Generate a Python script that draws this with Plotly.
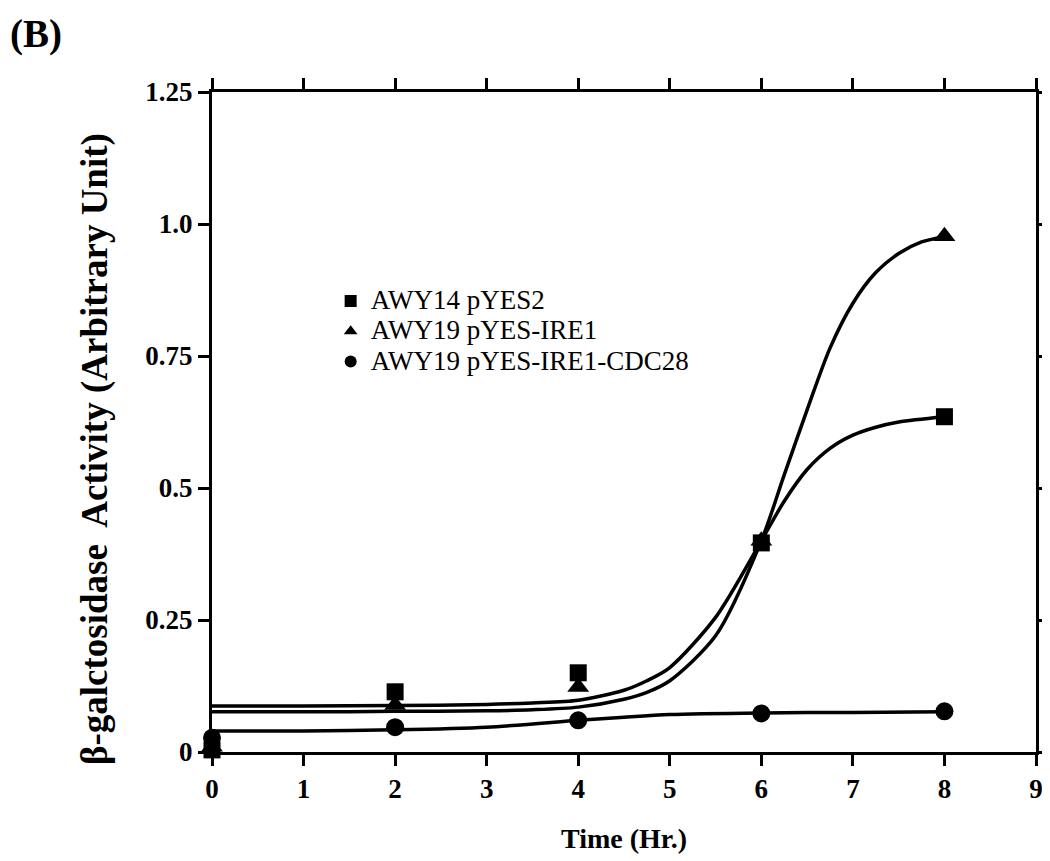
import plotly.graph_objects as go

# measured points (Time in hr, activity)
time_pts = [0, 2, 4, 6, 8]
awy14_pyes2 = [0.004, 0.114, 0.150, 0.396, 0.635]
awy19_ire1 = [0.010, 0.089, 0.123, 0.400, 0.977]
awy19_ire1_cdc28 = [0.027, 0.047, 0.060, 0.073, 0.077]

# fitted curves
fit_x_sq = [0, 1, 2, 3, 3.5, 4, 4.5, 4.75, 5, 5.5, 6, 6.25, 6.5, 6.75, 7, 7.25, 7.5, 8]
fit_sq = [0.087, 0.087, 0.088, 0.090, 0.093, 0.098, 0.117, 0.135, 0.160, 0.255, 0.400, 0.475, 0.535, 0.575, 0.600, 0.615, 0.625, 0.635]
fit_x_tri = [0, 1, 2, 3, 3.5, 4, 4.5, 4.75, 5, 5.5, 6, 6.25, 6.5, 6.75, 7, 7.25, 7.5, 7.75, 8]
fit_tri = [0.076, 0.076, 0.077, 0.078, 0.080, 0.085, 0.100, 0.113, 0.135, 0.220, 0.400, 0.525, 0.648, 0.765, 0.850, 0.908, 0.944, 0.966, 0.976]
fit_x_circ = [0, 1, 2, 3, 4, 4.5, 5, 6, 7, 8]
fit_circ = [0.040, 0.040, 0.042, 0.047, 0.060, 0.066, 0.071, 0.074, 0.075, 0.076]

y_tickvals = [0, 0.25, 0.5, 0.75, 1.0, 1.25]
y_ticktext = ['0', '0.25', '0.5', '0.75', '1.0', '1.25']
x_tickvals = [0, 1, 2, 3, 4, 5, 6, 7, 8, 9]

serif = "Liberation Serif"

fig = go.Figure()

for fx, fy in [(fit_x_sq, fit_sq), (fit_x_tri, fit_tri), (fit_x_circ, fit_circ)]:
    fig.add_trace(go.Scatter(
        x=fx, y=fy, mode='lines', line=dict(color='black', width=3.5, shape='spline', smoothing=0.8),
        showlegend=False, hoverinfo='skip', cliponaxis=False))

series = [
    ('AWY14 pYES2', awy14_pyes2, 'square', 17),
    ('AWY19 pYES-IRE1', awy19_ire1, 'triangle-up', 19),
    ('AWY19 pYES-IRE1-CDC28', awy19_ire1_cdc28, 'circle', 18),
]
for name, vals, sym, sz in series:
    fig.add_trace(go.Scatter(
        x=time_pts, y=vals, mode='markers',
        name='<span style="font-size:27px">' + name + '</span>',
        marker=dict(symbol=sym, size=sz, color='black', line=dict(width=0)),
        cliponaxis=False))

axis_common = dict(
    showgrid=False, zeroline=False, showline=True, linecolor='black', linewidth=3,
    mirror='ticks', ticks='outside', ticklen=11, tickwidth=3, tickcolor='black',
    automargin=False,
    tickfont=dict(family=serif, size=27, color='black', weight='bold'),
)

fig.update_xaxes(range=[0, 9], tickvals=x_tickvals, **axis_common,
                 title=dict(text='<b>Time (Hr.)</b>', font=dict(family=serif, size=28, color='black'), standoff=25))
fig.update_yaxes(range=[0, 1.25], tickvals=y_tickvals, ticktext=y_ticktext, **axis_common)

# y title sits a bit below the middle of the axis in the original
fig.add_annotation(text='<b>β-galctosidase  Activity (Arbitrary Unit)</b>', textangle=-90,
                   xref='paper', yref='paper', x=-0.142, y=0.459, xanchor='center', yanchor='middle',
                   showarrow=False, font=dict(family=serif, size=37, color='black'))

fig.add_annotation(text='<b>(B)</b>', xref='paper', yref='paper', x=-0.2476, y=1.124,
                   xanchor='left', yanchor='top', showarrow=False,
                   font=dict(family=serif, size=39, color='black'))

# page body has an 8px margin, so the figure is sized and offset to land where the original does
fig.update_layout(
    width=1042, height=853,
    margin=dict(l=204, r=14, t=84, b=109),
    paper_bgcolor='white', plot_bgcolor='white',
    font=dict(family=serif, color='black'),
    legend=dict(x=0.144, y=0.714, xanchor='left', yanchor='top', bgcolor='rgba(0,0,0,0)',
                font=dict(family=serif, size=21, color='black'), itemsizing='constant',
                tracegroupgap=0),
)

fig.write_html("out.html")
